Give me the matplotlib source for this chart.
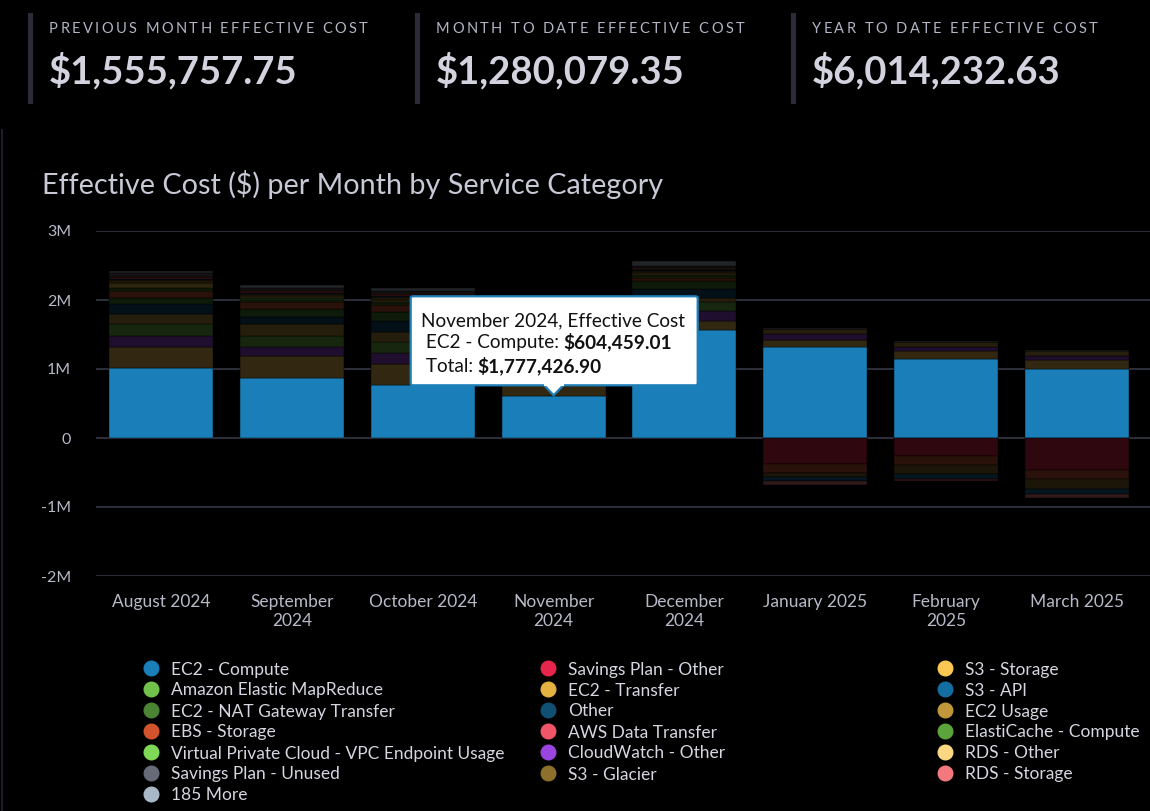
import matplotlib
matplotlib.use('Agg')
import matplotlib.pyplot as plt
from matplotlib.lines import Line2D
from matplotlib.patches import FancyBboxPatch, Polygon, Rectangle
from matplotlib.font_manager import FontProperties
import numpy as np

plt.rcParams['font.family'] = ['Lato', 'DejaVu Sans']

W, H = 1150, 811
BG = '#000000'
TXT = '#b7b9c8'

# kpi cards
kpi_labels = ['PREVIOUS MONTH EFFECTIVE COST', 'MONTH TO DATE EFFECTIVE COST', 'YEAR TO DATE EFFECTIVE COST']
kpi_values = ['$1,555,757.75', '$1,280,079.35', '$6,014,232.63']

# months on x axis
months = ['August 2024', 'September\n2024', 'October 2024', 'November\n2024',
          'December\n2024', 'January 2025', 'February\n2025', 'March 2025']

# series values in $M, stacking order from the zero line outwards
ec2_compute = [1.02, 0.875, 0.765, 0.604459, 1.565, 1.32, 1.15, 1.0]
sp_other = [0, 0, 0, 0, 0, -0.38, -0.26, -0.46]
s3_storage = [0.30, 0.32, 0.31, 0.20, 0.13, 0.107, 0.11, 0.13]
cloudwatch = [0.155, 0.13, 0.16, 0.12, 0.15, 0.087, 0.063, 0.063]
emr = [0.17, 0.155, 0.16, 0.13, 0.12, 0, 0, 0]
ec2_usage = [0.155, 0.17, 0.145, 0.11, 0.07, 0.06, 0.063, 0.068]
other = [0.145, 0.105, 0.155, 0.12, 0.13, 0.008, 0.006, 0]
nat_gateway = [0.09, 0.12, 0.135, 0.10, 0.11, 0, 0, 0]
ebs_storage = [0.09, 0.097, 0.097, 0.08, 0.04, -0.13, -0.135, -0.13]
elasticache = [0.03, 0.03, 0.03, 0.03, 0.03, 0, 0, 0]
vpc_endpoint = [0.02, 0.02, 0.02, 0.02, 0.02, 0, 0, 0]
ec2_transfer = [0.07, 0.03, 0.03, 0.05, 0.03, 0, 0, 0]
s3_glacier = [0.04, 0.03, 0.03, 0.03, 0.02, -0.06, -0.13, -0.146]
s3_api = [0.02, 0.02, 0.02, 0.02, 0.02, -0.05, -0.07, -0.07]
aws_data_transfer = [0.03, 0.03, 0.03, 0.03, 0.02, 0, -0.035, 0]
rds_other = [0.01, 0.01, 0.01, 0.01, 0.01, 0, 0, 0]
rds_storage = [0.01, 0.01, 0.01, 0.01, 0.01, -0.06, 0, -0.06]
sp_unused = [0.03, 0.02, 0.023, 0.03, 0.02, 0, 0, 0]
more_185 = [0.04, 0.05, 0.04, 0.052968, 0.065, 0.015, 0.015, 0.01]

series_names = ['EC2 - Compute', 'Savings Plan - Other', 'S3 - Storage', 'CloudWatch - Other',
                'Amazon Elastic MapReduce', 'EC2 Usage', 'Other', 'EC2 - NAT Gateway Transfer',
                'EBS - Storage', 'ElastiCache - Compute', 'Virtual Private Cloud - VPC Endpoint Usage',
                'EC2 - Transfer', 'S3 - Glacier', 'S3 - API', 'AWS Data Transfer', 'RDS - Other',
                'RDS - Storage', 'Savings Plan - Unused', '185 More']
series_values = [ec2_compute, sp_other, s3_storage, cloudwatch, emr, ec2_usage, other, nat_gateway,
                 ebs_storage, elasticache, vpc_endpoint, ec2_transfer, s3_glacier, s3_api,
                 aws_data_transfer, rds_other, rds_storage, sp_unused, more_185]
series_colors = {
    'EC2 - Compute': '#1a7fb8', 'Amazon Elastic MapReduce': '#71c24b',
    'EC2 - NAT Gateway Transfer': '#4b8534', 'EBS - Storage': '#d3542c',
    'Virtual Private Cloud - VPC Endpoint Usage': '#7fd957', 'Savings Plan - Unused': '#676a77',
    '185 More': '#a9b8c6', 'Savings Plan - Other': '#e8254b', 'EC2 - Transfer': '#e3b241',
    'Other': '#0f5074', 'AWS Data Transfer': '#f25568', 'CloudWatch - Other': '#9b45e0',
    'S3 - Glacier': '#8c702c', 'S3 - Storage': '#fcc853', 'S3 - API': '#146da0',
    'EC2 Usage': '#c0973b', 'ElastiCache - Compute': '#5ba33b', 'RDS - Other': '#fdd882',
    'RDS - Storage': '#f3797f',
}
highlight = 'EC2 - Compute'

# legend laid out in three columns
legend_cols = [
    ['EC2 - Compute', 'Amazon Elastic MapReduce', 'EC2 - NAT Gateway Transfer', 'EBS - Storage',
     'Virtual Private Cloud - VPC Endpoint Usage', 'Savings Plan - Unused', '185 More'],
    ['Savings Plan - Other', 'EC2 - Transfer', 'Other', 'AWS Data Transfer',
     'CloudWatch - Other', 'S3 - Glacier'],
    ['S3 - Storage', 'S3 - API', 'EC2 Usage', 'ElastiCache - Compute', 'RDS - Other', 'RDS - Storage'],
]

yticks = [-2, -1, 0, 1, 2, 3]
ytick_labels = ['-2M', '-1M', '0', '1M', '2M', '3M']

tip_title = 'November 2024, Effective Cost'
tip_rows = [(' EC2 - Compute: ', '$604,459.01'), (' Total: ', '$1,777,426.90')]
tip_month = 3


def dim(c, a=0.2):
    rgb = np.array(matplotlib.colors.to_rgb(c))
    bg = np.array(matplotlib.colors.to_rgb(BG))
    return tuple(a * rgb + (1 - a) * bg)


fig = plt.figure(figsize=(W / 100, H / 100), dpi=100, facecolor=BG)
renderer = fig.canvas.get_renderer()


def text_w(s, prop):
    return renderer.get_text_width_height_descent(s, prop, ismath=False)[0]


def spaced_text(x, y, s, spacing, size, color, weight='normal'):
    prop = FontProperties(family=['Lato', 'DejaVu Sans'], size=size, weight=weight)
    base = text_w('|', prop)
    for i, ch in enumerate(s):
        off = text_w(s[:i] + '|', prop) - base if i else 0
        fig.text((x + off + i * spacing) / W, y / H, ch, fontproperties=prop,
                 color=color, va='baseline', ha='left')


# left page edge
fig.add_artist(Line2D([1.5 / W, 1.5 / W], [0, 1 - 130 / H], color='#1c1e26', lw=1.5))

# kpi cards
kpi_x = [28, 415, 791]
for x0, lab, val in zip(kpi_x, kpi_labels, kpi_values):
    fig.add_artist(Rectangle((x0 / W, 1 - 104 / H), 4.5 / W, 91 / H, color='#2b2c37', lw=0))
    spaced_text(x0 + 21, H - 33, lab, 2.4, 10.5, '#b3b4c6')
    fig.text((x0 + 21) / W, 1 - 83 / H, val, fontsize=27.5, fontweight='bold',
             color='#d3d3df', va='baseline', ha='left')

# chart title
fig.text(42 / W, 1 - 194 / H, 'Effective Cost ($) per Month by Service Category',
         fontsize=20.7, color='#c8c9d6', va='baseline', ha='left')

# main axes
ax = fig.add_axes([96 / W, 1 - 576 / H, 1 - 96 / W, 345 / H])
ax.set_facecolor(BG)
x = np.arange(len(months))
pos_bottom = np.zeros(len(months))
neg_bottom = np.zeros(len(months))
for name, vals in zip(series_names, series_values):
    v = np.array(vals) * 1e6
    col = series_colors[name] if name == highlight else dim(series_colors[name])
    pos = np.where(v > 0, v, 0)
    neg = np.where(v < 0, v, 0)
    if pos.any():
        m = pos > 0
        ax.bar(x[m], pos[m], bottom=pos_bottom[m], width=0.795, color=col,
               edgecolor='#000000', linewidth=0.3, zorder=3)
    if neg.any():
        m = neg < 0
        ax.bar(x[m], neg[m], bottom=neg_bottom[m], width=0.795, color=col,
               edgecolor='#000000', linewidth=0.3, zorder=3)
    pos_bottom += pos
    neg_bottom += neg

ax.set_xlim(-0.5, 7.56)
ax.set_ylim(-2e6, 3e6)
ax.set_yticks([t * 1e6 for t in yticks])
ax.set_yticklabels(ytick_labels)
ax.set_xticks(x)
ax.set_xticklabels(months, linespacing=1.2)
ax.tick_params(axis='y', length=0, pad=18, labelsize=11.5, labelcolor=TXT)
ax.tick_params(axis='x', length=0, pad=13, labelsize=12.5, labelcolor=TXT)
ax.grid(axis='y', color='#393c4a', lw=1.1, zorder=1)
for s in ax.spines.values():
    s.set_visible(False)

# tooltip on the November bar
fig.canvas.draw()
tx, ty = ax.transData.transform((tip_month, ec2_compute[tip_month] * 1e6))
bx0, by0, bw, bh = tx - 143, ty + 11, 287, 89
fig.add_artist(FancyBboxPatch((bx0 / W, by0 / H), bw / W, bh / H,
                              boxstyle='round,pad=0,rounding_size=0.002',
                              fc='white', ec='#1f7fb9', lw=1.6, zorder=10))
tri = Polygon([((tx - 10) / W, (by0 + 0.5) / H), (tx / W, (ty + 1) / H), ((tx + 10) / W, (by0 + 0.5) / H)],
              closed=False, fc='white', ec='#1f7fb9', lw=1.6, zorder=11)
fig.add_artist(tri)
fig.add_artist(Line2D([(tx - 8.5) / W, (tx + 8.5) / W], [(by0 + 1) / H, (by0 + 1) / H],
                      color='white', lw=2.2, zorder=12))
tprop = FontProperties(family=['Lato', 'DejaVu Sans'], size=13.7)
bprop = FontProperties(family=['Lato', 'DejaVu Sans'], size=13.7, weight='bold')
fig.text((bx0 + 10) / W, (by0 + bh - 30) / H, tip_title, fontproperties=tprop,
         color='#111111', va='baseline', zorder=13)
for i, (lab, val) in enumerate(tip_rows):
    yy = by0 + bh - 52 - i * 24
    fig.text((bx0 + 10) / W, yy / H, lab, fontproperties=tprop, color='#111111',
             va='baseline', zorder=13)
    lw_ = text_w(lab.replace(' ', '\u00a0'), tprop)
    fig.text((bx0 + 10 + lw_) / W, yy / H, val, fontproperties=bprop, color='#111111',
             va='baseline', zorder=13)

# legend
col_x = [151, 548, 945]
for cx, names in zip(col_x, legend_cols):
    for j, name in enumerate(names):
        yy = H - 668 - j * 21
        fig.add_artist(Line2D([cx / W], [yy / H], marker='o', markersize=10.5,
                              color=series_colors[name], lw=0))
        fig.text((cx + 20) / W, yy / H, name, fontsize=12.5, color='#d5d6e0',
                 va='center_baseline', ha='left')

fig.savefig('out.png', dpi=100, facecolor=BG)
